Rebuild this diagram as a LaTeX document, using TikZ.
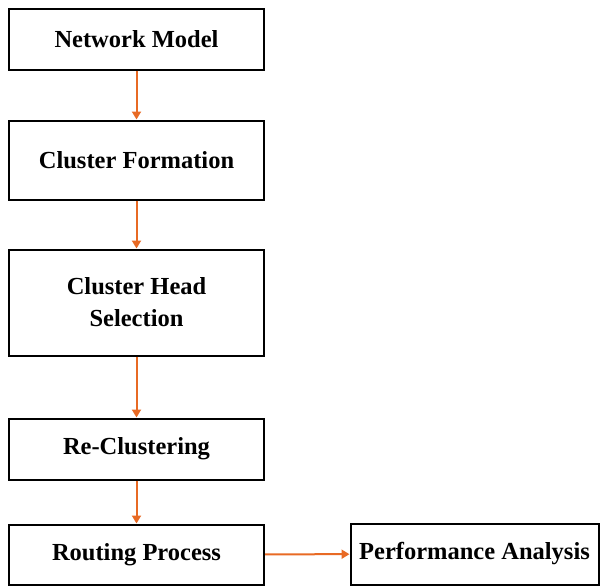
\documentclass[tikz,border=0pt]{standalone}
\usepackage{fontspec}
\setmainfont{Liberation Serif}
\usetikzlibrary{arrows.meta}
\definecolor{flowarrow}{RGB}{232,106,36}

\begin{document}
\begin{tikzpicture}[x=1pt,y=-1pt,
	stage/.style={draw,line width=2pt,minimum width=255pt,align=center,inner sep=0pt,font=\bfseries\fontsize{24.5}{32}\selectfont},
	flow/.style={draw=flowarrow,line width=2pt,-{Triangle[length=8pt,width=9pt]}}]
	\useasboundingbox (0,0) rectangle (601,587);
	\node[stage,minimum height=61pt] (model) at (136.5,39) {Network Model};
	\node[stage,minimum height=79pt] (formation) at (136.5,160) {Cluster Formation};
	\node[stage,minimum height=106pt] (headsel) at (136.5,302.5) {Cluster Head\\Selection};
	\node[stage,minimum height=61pt] (recluster) at (136.5,449) {Re-Clustering};
	\node[stage,minimum height=60pt] (routing) at (136.5,554.5) {Routing Process};
	\node[stage,minimum width=248pt,minimum height=61pt] (perf) at (474.5,554) {Performance Analysis};
	\draw[flow]
		(model) -- (formation);
	\draw[flow]
		(formation) -- (headsel);
	\draw[flow]
		(headsel) -- (recluster);
	\draw[flow]
		(recluster) -- (routing);
	\draw[flow]
		(routing) -- (perf);
	\end{tikzpicture}
\end{document}
